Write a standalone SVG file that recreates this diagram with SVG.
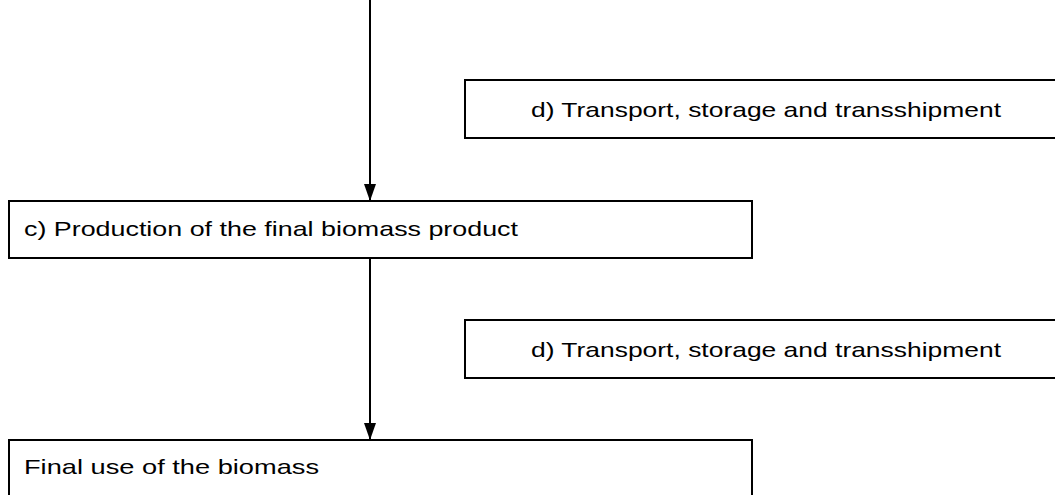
<svg xmlns="http://www.w3.org/2000/svg" width="1055" height="495" viewBox="0 0 1055 495">
<defs>
<style>
.box{fill:#fff;stroke:#000;stroke-width:2}
.t{font-family:"Liberation Sans",Arial,sans-serif;font-size:21px;fill:#000}
.c{stroke:#000;stroke-width:2;fill:none}
</style>
<marker id="ah" markerWidth="17" markerHeight="12" refX="17" refY="6" orient="auto" markerUnits="userSpaceOnUse" viewBox="0 0 17 12">
<path d="M0,0 L17,6 L0,12 z" fill="#000"/>
</marker>
</defs>
<rect width="1055" height="495" fill="#fff"/>
<g id="connectors">
<line class="c" x1="370" y1="0" x2="370" y2="201" marker-end="url(#ah)"/>
<line class="c" x1="370" y1="258" x2="370" y2="440" marker-end="url(#ah)"/>
</g>
<g id="d1">
<rect class="box" x="465" y="80" width="600" height="58"/>
<text class="t" x="531" y="117" textLength="470" lengthAdjust="spacingAndGlyphs">d) Transport, storage and transshipment</text>
</g>
<g id="c">
<rect class="box" x="9" y="201" width="743" height="57"/>
<text class="t" x="24" y="236" textLength="494" lengthAdjust="spacingAndGlyphs">c) Production of the final biomass product</text>
</g>
<g id="d2">
<rect class="box" x="465" y="320" width="600" height="58"/>
<text class="t" x="531" y="357" textLength="470" lengthAdjust="spacingAndGlyphs">d) Transport, storage and transshipment</text>
</g>
<g id="final">
<rect class="box" x="9" y="440" width="743" height="70"/>
<text class="t" x="24" y="474" textLength="295" lengthAdjust="spacingAndGlyphs">Final use of the biomass</text>
</g>
</svg>
